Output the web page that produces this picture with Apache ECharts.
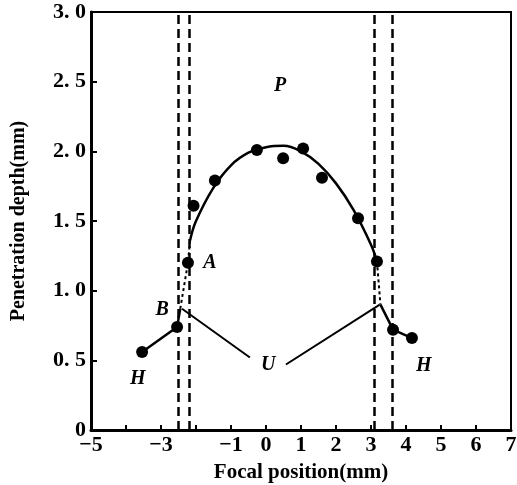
<!DOCTYPE html>
<html>
<head>
<meta charset="UTF-8">
<script src="https://cdn.jsdelivr.net/npm/echarts@6/dist/echarts.min.js"></script>
<style>
body { margin:0; padding:0; background:#fff; }
#chart { width:517px; height:485px; }
</style>
</head>
<body><div id="chart"></div>
<script>
// measured dots (focal position, depth)
var dots = [
  [-3.54, 0.56], [-2.54, 0.74], [-2.23, 1.20], [-2.07, 1.61], [-1.46, 1.79],
  [-0.26, 2.01], [0.49, 1.95], [1.06, 2.02], [1.60, 1.81], [2.63, 1.52],
  [3.17, 1.21], [3.63, 0.72], [4.17, 0.66]
];
// fitted curve P
var curveX = [-2.17, -2.0, -1.5, -1.0, -0.5, 0, 0.5, 1.0, 1.5, 2.0, 2.5, 3.0, 3.17];
var curveY = [1.36, 1.50, 1.74, 1.90, 1.99, 2.03, 2.04, 2.00, 1.91, 1.77, 1.58, 1.33, 1.21];
// H and U branches
var leftH = [[-3.54, 0.56], [-2.54, 0.74], [-2.45, 0.87]];
var leftDot = [[-2.45, 0.87], [-2.23, 1.20], [-2.17, 1.36]];
var rightH = [[3.27, 0.90], [3.63, 0.72], [4.17, 0.66]];
var rightDot = [[3.17, 1.21], [3.27, 0.90]];
var uLeft = [[-2.40, 0.87], [-0.46, 0.52]];
var uRight = [[0.57, 0.47], [3.25, 0.90]];
// dashed boundaries
var bounds = [-2.5, -2.2, 3.1, 3.6];
// region labels
var tags = [
  { name: 'P', value: [0.4, 2.47] },
  { name: 'A', value: [-1.6, 1.2] },
  { name: 'B', value: [-2.97, 0.86] },
  { name: 'U', value: [0.06, 0.47] },
  { name: 'H', value: [-3.66, 0.37] },
  { name: 'H', value: [4.51, 0.46] }
];

var curve = curveX.map(function (x, i) { return [x, curveY[i]]; });
var serif = 'Liberation Serif';
var ink = '#000';

function seg(data, w, dash) {
  return {
    type: 'line', data: data, symbol: 'none', silent: true,
    lineStyle: { color: ink, width: w, type: dash || 'solid' }
  };
}

var c = echarts.init(document.getElementById('chart'));
c.setOption({
  animation: false,
  grid: {
    left: 91, right: 6, top: 12, bottom: 55, outerBoundsMode: 'none',
    show: true, borderColor: ink, borderWidth: 2
  },
  xAxis: {
    type: 'value', min: -5, max: 7, interval: 1,
    name: 'Focal position(mm)', nameLocation: 'middle', nameGap: 32,
    nameTextStyle: { fontFamily: serif, fontWeight: 'bold', fontSize: 21, color: ink },
    axisLine: { onZero: false, lineStyle: { color: ink, width: 3 } },
    axisTick: { inside: true, length: 5, lineStyle: { color: ink, width: 2 } },
    axisLabel: {
      fontFamily: serif, fontWeight: 'bold', fontSize: 22, color: ink, margin: 4,
      formatter: function (v) {
        if (v === -4 || v === -2) return '';
        return v < 0 ? '\u2212' + Math.abs(v) : String(v);
      }
    },
    splitLine: { show: false }
  },
  yAxis: {
    type: 'value', min: 0, max: 3, interval: 0.5,
    name: 'Penetration depth(mm)', nameLocation: 'middle', nameGap: 62,
    nameTextStyle: { fontFamily: serif, fontWeight: 'bold', fontSize: 20, color: ink },
    axisLine: { onZero: false, lineStyle: { color: ink, width: 3 } },
    axisTick: { inside: true, length: 6, lineStyle: { color: ink, width: 2 } },
    axisLabel: {
      fontFamily: serif, fontWeight: 'bold', fontSize: 22, color: ink, margin: 5,
      formatter: function (v) { return v === 0 ? '0' : v.toFixed(1).replace('.', '. '); }
    },
    splitLine: { show: false }
  },
  series: [
    {
      type: 'line', data: [], silent: true,
      markLine: {
        symbol: 'none', silent: true, label: { show: false },
        lineStyle: { color: ink, width: 2.5, type: [9, 5] },
        data: bounds.map(function (b) { return { xAxis: b }; })
      }
    },
    Object.assign(seg(curve, 2.5), { smooth: 0.4 }),
    seg(leftH, 2.5),
    seg(leftDot, 2, [3, 3]),
    seg(rightH, 2.5),
    seg(rightDot, 2, [3, 3]),
    seg(uLeft, 2),
    seg(uRight, 2),
    {
      type: 'scatter', data: dots, symbolSize: 12, silent: true,
      itemStyle: { color: ink, opacity: 1 }
    },
    {
      type: 'scatter', data: tags, symbolSize: 0, silent: true,
      itemStyle: { opacity: 1 },
      label: {
        show: true, position: 'inside', formatter: '{b}',
        fontFamily: serif, fontStyle: 'italic', fontWeight: 'bold', fontSize: 20, color: ink
      }
    }
  ]
});
</script>
</body></html>
